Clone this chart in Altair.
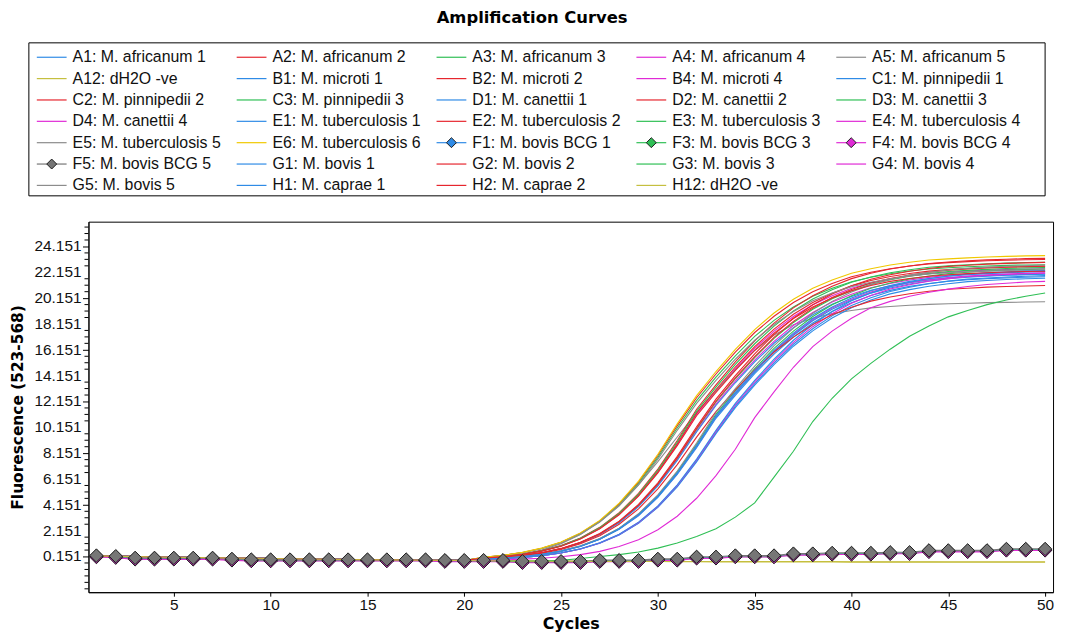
import altair as alt
import pandas as pd

CYCLES = list(range(1, 51))

# shared flat baseline of cycles 1-20
BASELINE = [0.2, 0.17, 0.14, 0.12, 0.1, 0.08, 0.06, 0.04, 0.02, 0.0,
            -0.02, -0.04, -0.06, -0.08, -0.1, -0.11, -0.12, -0.14, -0.15, -0.16]

# cycles 21-50 of every amplifying sample
A1 = [-0.05,0.02,0.14,0.31,0.56,0.93,1.48,2.25,3.31,4.73,6.5,8.57,10.85,12.62,14.3,15.82,17.13,18.23,19.12,19.8,20.35,20.75,21.06,21.28,21.46,21.57,21.66,21.72,21.77,21.81]
A2 = [0.09,0.24,0.46,0.79,1.26,1.95,2.91,4.22,5.91,7.97,10.28,12.44,14.28,15.97,17.49,18.75,19.81,20.65,21.28,21.8,22.15,22.43,22.64,22.8,22.9,22.98,23.04,23.08,23.12,23.14]
A3 = [0.09,0.23,0.45,0.77,1.24,1.91,2.86,4.15,5.8,7.83,10.1,12.22,14.04,15.69,17.19,18.43,19.47,20.29,20.91,21.42,21.77,22.04,22.25,22.41,22.5,22.58,22.64,22.69,22.72,22.74]
A4 = [0.03,0.15,0.32,0.58,0.96,1.52,2.32,3.41,4.86,6.68,8.81,11.15,12.97,14.69,16.26,17.6,18.73,19.64,20.34,20.91,21.32,21.64,21.86,22.05,22.16,22.25,22.32,22.36,22.41,22.43]
A5 = [-0.1,0.05,0.3,0.65,1.15,1.85,2.85,4.1,5.7,7.5,9.4,11.3,13.0,14.6,16.1,17.3,18.1,18.6,18.95,19.2,19.4,19.5,19.6,19.67,19.72,19.76,19.8,19.82,19.85,19.87]
A12 = [-0.17,-0.18,-0.19,-0.2,-0.2,-0.21,-0.21,-0.22,-0.22,-0.22,-0.23,-0.23,-0.23,-0.23,-0.24,-0.24,-0.24,-0.24,-0.24,-0.25,-0.25,-0.25,-0.25,-0.25,-0.25,-0.25,-0.25,-0.25,-0.25,-0.25]
B1 = [-0.08,-0.02,0.08,0.22,0.43,0.73,1.19,1.84,2.75,4.0,5.59,7.55,9.75,11.79,13.54,15.14,16.58,17.78,18.78,19.58,20.18,20.67,21.0,21.27,21.47,21.62,21.71,21.79,21.84,21.89]
B2 = [0.04,0.16,0.34,0.61,1.01,1.58,2.41,3.54,5.04,6.92,9.13,11.55,13.43,15.22,16.84,18.22,19.4,20.34,21.07,21.66,22.08,22.41,22.64,22.83,22.95,23.04,23.11,23.16,23.21,23.23]
B4 = [-0.02,0.08,0.22,0.43,0.75,1.21,1.87,2.79,4.05,5.67,7.65,9.88,11.95,13.73,15.35,16.81,18.03,19.04,19.85,20.46,20.95,21.29,21.56,21.76,21.92,22.01,22.09,22.14,22.19,22.22]
C1 = [-0.08,-0.02,0.07,0.21,0.42,0.73,1.18,1.82,2.73,3.96,5.54,7.48,9.66,11.68,13.42,15.0,16.43,17.62,18.61,19.4,20.0,20.48,20.81,21.07,21.27,21.43,21.51,21.59,21.65,21.69]
C2 = [0.03,0.15,0.33,0.59,0.97,1.54,2.34,3.44,4.91,6.74,8.89,11.25,13.08,14.82,16.4,17.75,18.9,19.81,20.52,21.1,21.51,21.83,22.06,22.24,22.36,22.45,22.52,22.56,22.61,22.63]
C3 = [-0.01,0.08,0.23,0.44,0.76,1.23,1.89,2.83,4.11,5.75,7.76,10.01,12.11,13.91,15.55,17.04,18.27,19.29,20.11,20.73,21.23,21.57,21.85,22.05,22.21,22.3,22.38,22.44,22.49,22.52]
D1 = [-0.02,0.08,0.22,0.43,0.74,1.19,1.85,2.77,4.01,5.62,7.58,9.79,11.84,13.6,15.21,16.66,17.86,18.87,19.67,20.27,20.76,21.1,21.36,21.56,21.72,21.81,21.89,21.94,21.99,22.02]
D2 = [-0.01,0.08,0.23,0.45,0.76,1.23,1.9,2.85,4.13,5.78,7.79,10.06,12.17,13.98,15.62,17.11,18.35,19.38,20.2,20.82,21.33,21.67,21.94,22.15,22.31,22.4,22.48,22.54,22.59,22.62]
D3 = [0.03,0.15,0.33,0.6,0.99,1.56,2.38,3.49,4.97,6.83,9.01,11.4,13.26,15.02,16.62,17.99,19.15,20.08,20.8,21.38,21.79,22.12,22.35,22.54,22.65,22.74,22.81,22.86,22.91,22.93]
D4 = [-0.05,0.03,0.14,0.32,0.57,0.95,1.5,2.29,3.36,4.8,6.59,8.69,11.0,12.79,14.49,16.04,17.36,18.48,19.38,20.07,20.63,21.04,21.35,21.57,21.75,21.86,21.95,22.02,22.07,22.11]
E1 = [-0.05,0.03,0.14,0.31,0.57,0.94,1.49,2.28,3.35,4.77,6.56,8.65,10.95,12.73,14.43,15.97,17.28,18.4,19.29,19.98,20.54,20.94,21.25,21.48,21.65,21.77,21.85,21.92,21.97,22.01]
E2 = [-0.01,0.09,0.23,0.45,0.78,1.25,1.93,2.89,4.18,5.86,7.9,10.19,12.33,14.16,15.83,17.34,18.59,19.64,20.47,21.1,21.61,21.96,22.23,22.44,22.61,22.7,22.78,22.84,22.88,22.92]
E3 = [-0.05,0.03,0.15,0.32,0.58,0.96,1.52,2.32,3.41,4.86,6.68,8.81,11.15,12.97,14.69,16.26,17.6,18.73,19.64,20.34,20.91,21.32,21.64,21.86,22.05,22.16,22.25,22.32,22.36,22.41]
E4 = [-0.08,-0.02,0.08,0.22,0.43,0.74,1.2,1.86,2.78,4.03,5.65,7.62,9.84,11.9,13.67,15.28,16.73,17.94,18.95,19.76,20.36,20.86,21.19,21.46,21.66,21.82,21.91,21.99,22.04,22.09]
E5 = [0.08,0.22,0.44,0.75,1.21,1.87,2.81,4.07,5.7,7.69,9.92,12.0,13.79,15.42,16.89,18.11,19.12,19.94,20.55,21.04,21.38,21.65,21.86,22.02,22.11,22.19,22.24,22.29,22.32,22.34]
E6 = [0.09,0.24,0.47,0.8,1.28,1.98,2.95,4.28,5.99,8.07,10.42,12.6,14.47,16.18,17.72,19.0,20.06,20.92,21.56,22.08,22.43,22.72,22.93,23.1,23.19,23.27,23.33,23.38,23.42,23.44]
G1 = [-0.08,-0.01,0.08,0.22,0.44,0.75,1.21,1.87,2.81,4.07,5.7,7.69,9.92,12.0,13.79,15.42,16.89,18.11,19.12,19.94,20.55,21.04,21.38,21.65,21.86,22.02,22.11,22.19,22.24,22.29]
G2 = [-0.02,0.07,0.2,0.4,0.7,1.14,1.76,2.65,3.84,5.39,7.27,9.39,11.36,13.05,14.59,15.98,17.13,18.1,18.87,19.45,19.92,20.24,20.49,20.69,20.84,20.92,21.0,21.05,21.09,21.13]
G3 = [-0.17,-0.18,-0.19,-0.2,-0.15,0.0,0.15,0.3,0.5,0.8,1.2,1.7,2.3,3.2,4.3,6.3,8.3,10.6,12.4,13.9,15.1,16.2,17.2,18.0,18.7,19.2,19.65,20.0,20.3,20.55]
G4 = [-0.15,-0.12,-0.05,0.02,0.13,0.3,0.55,0.92,1.45,2.22,3.27,4.66,6.41,8.45,10.9,12.9,14.8,16.4,17.6,18.6,19.4,19.9,20.3,20.6,20.85,21.05,21.2,21.3,21.4,21.45]
G5 = [-0.05,0.03,0.15,0.33,0.59,0.98,1.55,2.35,3.46,4.93,6.77,8.93,11.3,13.14,14.89,16.48,17.83,18.98,19.9,20.62,21.19,21.6,21.93,22.16,22.34,22.46,22.55,22.62,22.66,22.71]
H1 = [-0.05,0.03,0.14,0.32,0.57,0.95,1.51,2.3,3.38,4.82,6.62,8.73,11.05,12.85,14.56,16.11,17.44,18.57,19.47,20.16,20.73,21.13,21.45,21.67,21.85,21.96,22.05,22.12,22.17,22.21]
H2 = [0.03,0.14,0.32,0.57,0.95,1.51,2.3,3.38,4.82,6.62,8.73,11.05,12.85,14.56,16.11,17.44,18.57,19.47,20.16,20.73,21.13,21.45,21.67,21.85,21.96,22.05,22.12,22.17,22.21,22.23]
H12 = [-0.18,-0.19,-0.2,-0.21,-0.22,-0.22,-0.23,-0.23,-0.24,-0.24,-0.25,-0.25,-0.26,-0.26,-0.26,-0.27,-0.27,-0.27,-0.27,-0.28,-0.28,-0.28,-0.28,-0.28,-0.29,-0.29,-0.29,-0.29,-0.29,-0.29]

# BCG samples with diamond markers (all 50 cycles)
F1 = [0.17,0.12,-0.01,-0.01,-0.01,-0.01,-0.01,-0.09,-0.14,-0.14,-0.14,-0.14,-0.14,-0.14,-0.14,-0.14,-0.14,-0.14,-0.19,-0.19,-0.19,-0.19,-0.27,-0.27,-0.27,-0.27,-0.19,-0.19,-0.19,-0.09,-0.09,0.07,0.07,0.17,0.17,0.17,0.32,0.32,0.37,0.37,0.37,0.42,0.42,0.57,0.57,0.57,0.57,0.68,0.68,0.68]
F3 = [0.14,0.09,-0.04,-0.04,-0.04,-0.04,-0.04,-0.12,-0.17,-0.17,-0.17,-0.17,-0.17,-0.17,-0.17,-0.17,-0.17,-0.17,-0.22,-0.22,-0.22,-0.22,-0.3,-0.3,-0.3,-0.3,-0.22,-0.22,-0.22,-0.12,-0.12,0.04,0.04,0.14,0.14,0.14,0.29,0.29,0.34,0.34,0.34,0.39,0.39,0.54,0.54,0.54,0.54,0.65,0.65,0.65]
F4 = [0.11,0.06,-0.07,-0.07,-0.07,-0.07,-0.07,-0.15,-0.2,-0.2,-0.2,-0.2,-0.2,-0.2,-0.2,-0.2,-0.2,-0.2,-0.25,-0.25,-0.25,-0.25,-0.33,-0.33,-0.33,-0.33,-0.25,-0.25,-0.25,-0.15,-0.15,0.01,0.01,0.11,0.11,0.11,0.26,0.26,0.31,0.31,0.31,0.36,0.36,0.51,0.51,0.51,0.51,0.62,0.62,0.62]
F5 = [0.23,0.18,0.05,0.05,0.05,0.05,0.05,-0.03,-0.08,-0.08,-0.08,-0.08,-0.08,-0.08,-0.08,-0.08,-0.08,-0.08,-0.13,-0.13,-0.13,-0.13,-0.21,-0.21,-0.21,-0.21,-0.13,-0.13,-0.13,-0.03,-0.03,0.13,0.13,0.23,0.23,0.23,0.38,0.38,0.43,0.43,0.43,0.48,0.48,0.63,0.63,0.63,0.63,0.74,0.74,0.74]

SERIES = ["A1", "A2", "A3", "A4", "A5", "A12", "B1", "B2", "B4", "C1",
          "C2", "C3", "D1", "D2", "D3", "D4", "E1", "E2", "E3", "E4",
          "E5", "E6", "F1", "F3", "F4", "F5", "G1", "G2", "G3", "G4",
          "G5", "H1", "H2", "H12"]
LABELS = ["A1: M. africanum 1", "A2: M. africanum 2", "A3: M. africanum 3", "A4: M. africanum 4", "A5: M. africanum 5",
          "A12: dH2O -ve", "B1: M. microti 1", "B2: M. microti 2", "B4: M. microti 4", "C1: M. pinnipedii 1",
          "C2: M. pinnipedii 2", "C3: M. pinnipedii 3", "D1: M. canettii 1", "D2: M. canettii 2", "D3: M. canettii 3",
          "D4: M. canettii 4", "E1: M. tuberculosis 1", "E2: M. tuberculosis 2", "E3: M. tuberculosis 3", "E4: M. tuberculosis 4",
          "E5: M. tuberculosis 5", "E6: M. tuberculosis 6", "F1: M. bovis BCG 1", "F3: M. bovis BCG 3", "F4: M. bovis BCG 4",
          "F5: M. bovis BCG 5", "G1: M. bovis 1", "G2: M. bovis 2", "G3: M. bovis 3", "G4: M. bovis 4",
          "G5: M. bovis 5", "H1: M. caprae 1", "H2: M. caprae 2", "H12: dH2O -ve"]
BLUE, RED, GREEN, MAG, GRAY, OLIVE, YEL, DGRAY = ("#2f8be6", "#e6262e", "#2fbf55", "#e02ad6",
                                                  "#8c8c8c", "#c5bf3f", "#f0c800", "#767676")
COLORS = [BLUE, RED, GREEN, MAG, GRAY, OLIVE, BLUE, RED, MAG, BLUE,
          RED, GREEN, BLUE, RED, GREEN, MAG, BLUE, RED, GREEN, MAG,
          GRAY, YEL, BLUE, GREEN, MAG, DGRAY, BLUE, RED, GREEN, MAG,
          GRAY, BLUE, RED, OLIVE]
MARKED = ["F1", "F3", "F4", "F5"]

TAILS = {"A1": A1, "A2": A2, "A3": A3, "A4": A4, "A5": A5, "A12": A12, "B1": B1, "B2": B2,
         "B4": B4, "C1": C1, "C2": C2, "C3": C3, "D1": D1, "D2": D2, "D3": D3, "D4": D4,
         "E1": E1, "E2": E2, "E3": E3, "E4": E4, "E5": E5, "E6": E6, "G1": G1, "G2": G2,
         "G3": G3, "G4": G4, "G5": G5, "H1": H1, "H2": H2, "H12": H12}
FULL = {"F1": F1, "F3": F3, "F4": F4, "F5": F5}

X_TICKS = [5, 10, 15, 20, 25, 30, 35, 40, 45, 50]
Y_TICKS = [0.151, 2.151, 4.151, 6.151, 8.151, 10.151, 12.151, 14.151,
           16.151, 18.151, 20.151, 22.151, 24.151]
Y_LABELS = ["0.151", "2.151", "4.151", "6.151", "8.151", "10.151", "12.151", "14.151",
            "16.151", "18.151", "20.151", "22.151", "24.151"]
X_DOMAIN = [0.59, 50.41]
Y_DOMAIN = [-2.61, 26.07]

# ---- build tables ----
rows = []
for s in SERIES:
    vals = FULL[s] if s in FULL else BASELINE + TAILS[s]
    assert len(vals) == 50, (s, len(vals))
    for c, v in zip(CYCLES, vals):
        rows.append({"series": s, "cycle": c, "value": v})
df = pd.DataFrame(rows)
df_marked = df[df["series"].isin(MARKED)]

minor = []
for t in Y_TICKS[:-1]:
    minor += [round(t + 0.5, 3), round(t + 1.0, 3), round(t + 1.5, 3)]
minor = [round(Y_TICKS[0] - k * 0.5, 3) for k in (5, 4, 3, 2, 1)] + minor + \
        [round(Y_TICKS[-1] + k * 0.5, 3) for k in (1, 2, 3)]
df_minor = pd.DataFrame({"value": minor})
df_ylab = pd.DataFrame({"value": Y_TICKS, "label": Y_LABELS})

color_scale = alt.Scale(domain=SERIES, range=COLORS)

x_enc = alt.X("cycle:Q", scale=alt.Scale(domain=X_DOMAIN, nice=False, zero=False),
              axis=alt.Axis(values=X_TICKS, format="d", title="Cycles", tickSize=4,
                            labelPadding=1, titlePadding=3, titleFontSize=16,
                            labelOverlap=False))
y_enc = alt.Y("value:Q", scale=alt.Scale(domain=Y_DOMAIN, nice=False, zero=False),
              axis=alt.Axis(values=Y_TICKS, labels=False, title="Fluorescence (523-568)",
                            tickSize=6, titlePadding=57, titleFontSize=15.5))

lines = alt.Chart(df).mark_line(strokeWidth=1.1).encode(
    x=x_enc, y=y_enc,
    color=alt.Color("series:N", scale=color_scale, legend=None),
)
markers = alt.Chart(df_marked).mark_point(shape="diamond", size=180, fillOpacity=1,
                                          strokeOpacity=1, strokeWidth=1).encode(
    x="cycle:Q", y="value:Q",
    fill=alt.Fill("series:N", scale=color_scale, legend=None),
    stroke=alt.value("#1e1e1e"),
)
minor_ticks = alt.Chart(df_minor).mark_rule(color="black", strokeWidth=1).encode(
    y="value:Q", x=alt.value(-4), x2=alt.value(0)
)
y_labels = alt.Chart(df_ylab).mark_text(align="right", baseline="middle", dx=-7,
                                        font="Liberation Sans", fontSize=15.5,
                                        color="#111111").encode(
    y="value:Q", x=alt.value(0), text="label:N"
)
plot = alt.layer(lines, markers, minor_ticks, y_labels).properties(width=971, height=373)

# ---- legend (5 columns, row-major) ----
leg = pd.DataFrame({"series": SERIES, "label": LABELS, "idx": list(range(len(SERIES)))})
leg["col"] = leg["idx"] % 5
leg["row"] = leg["idx"] // 5
leg_marked = leg[leg["series"].isin(MARKED)]

lx = alt.Scale(domain=[0, 5], range=[-52, 954])
ly = alt.Scale(domain=[0, 7], range=[14.5, 165])

box = alt.Chart(pd.DataFrame({"k": [0]})).mark_rect(fillOpacity=0, stroke="black", strokeWidth=1).encode(
    x=alt.value(-60), x2=alt.value(963), y=alt.value(0), y2=alt.value(154)
)
swatch = alt.Chart(leg).transform_calculate(col2="datum.col + 30/201.2").mark_rule(strokeWidth=1.2).encode(
    x=alt.X("col:Q", scale=lx, axis=None), x2="col2:Q",
    y=alt.Y("row:Q", scale=ly, axis=None),
    color=alt.Color("series:N", scale=color_scale, legend=None),
)
leg_pts = alt.Chart(leg_marked).transform_calculate(colm="datum.col + 15/201.2").mark_point(
    shape="diamond", size=100, fillOpacity=1, strokeOpacity=1, strokeWidth=1).encode(
    x=alt.X("colm:Q", scale=lx, axis=None),
    y=alt.Y("row:Q", scale=ly, axis=None),
    fill=alt.Fill("series:N", scale=color_scale, legend=None),
    stroke=alt.value("#1e1e1e"),
)
texts = alt.Chart(leg).mark_text(align="left", baseline="middle", dx=36, font="Liberation Sans",
                                 fontSize=16, color="#111111").encode(
    x=alt.X("col:Q", scale=lx, axis=None),
    y=alt.Y("row:Q", scale=ly, axis=None),
    text="label:N",
)
legend = alt.layer(box, swatch, leg_pts, texts).properties(
    width=971, height=154, view=alt.ViewBackground(stroke="transparent"))

chart = alt.vconcat(legend, plot, spacing=24).properties(
    title=alt.TitleParams("Amplification Curves", font="DejaVu Sans", fontSize=16.5,
                          fontWeight="bold", anchor="middle", offset=15, color="black"),
    padding={"left": 2, "top": 0, "right": 5, "bottom": 0},
    background="white",
).configure_view(stroke="black", strokeWidth=1).configure_axis(
    grid=False, labelFont="Liberation Sans", labelFontSize=15.5, labelColor="#111111",
    tickColor="black", domainColor="black", titleFont="DejaVu Sans", titleFontWeight="bold",
    titleColor="black",
)

chart.save("out.html", embed_options={"renderer": "svg", "actions": False})
